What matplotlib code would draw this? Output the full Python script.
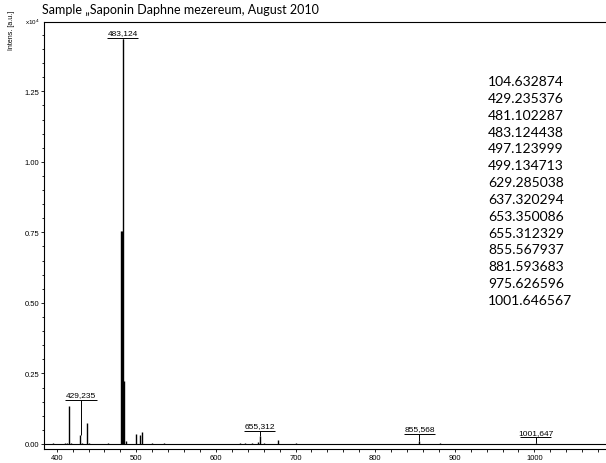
import matplotlib
matplotlib.use("Agg")
from matplotlib import pyplot as plt
from matplotlib.ticker import MultipleLocator, FuncFormatter

# peaks (m/z, intensity in a.u.)
peak_mz = [395.0, 410.0, 413.0, 415.8, 418.0, 429.2, 431.5, 437.5, 440.0, 465.0,
           481.1, 482.1, 483.1, 484.3, 486.5, 499.2, 505.0, 507.5, 520.0, 535.0,
           630.0, 637.0, 645.0, 653.0, 655.3, 660.0, 677.7, 700.0, 855.6, 881.6,
           975.6, 1001.6]
peak_int = [45, 30, 40, 1360, 40, 305, 50, 745, 50, 30,
            7540, 7540, 14340, 2220, 100, 355, 310, 425, 25, 50,
            40, 50, 30, 60, 280, 40, 140, 20, 95, 35,
            15, 25]

# annotated peaks: label, label position, peak top
label_text = ["483,124", "429,235", "655,312", "855,568", "1001,647"]
label_mz = [483.1, 430.5, 655.3, 855.6, 1001.6]
label_y = [14400, 1560, 460, 355, 230]
label_peak = [14340, 305, 280, 95, 25]

# mass list printed on the slide
mass_list = ["104.632874", "429.235376", "481.102287", "483.124438", "497.123999",
             "499.134713", "629.285038", "637.320294", "653.350086", "655.312329",
             "855.567937", "881.593683", "975.626596", "1001.646567"]

baseline_mz = [384, 1090]
baseline_int = [0, 0]

fig = plt.figure(figsize=(6.06, 4.64), dpi=100)
ax = fig.add_axes([44 / 606, 14 / 464, 562 / 606, 427 / 464])

ax.plot(baseline_mz, baseline_int, color="black", lw=0.8)
ax.vlines(peak_mz, 0, peak_int, color="black", lw=1.0)

for txt, x, y, top in zip(label_text, label_mz, label_y, label_peak):
    ax.hlines(y, x - 19.5, x + 19.5, color="black", lw=0.7)
    ax.vlines(x, top, y, color="black", lw=0.7)
    ax.text(x, y + 60, txt, ha="center", va="bottom", fontsize=6,
            family="Liberation Sans")

ax.set_xlim(384, 1090)
ax.set_ylim(-180, 14960)
ax.xaxis.set_major_locator(MultipleLocator(100))
ax.xaxis.set_minor_locator(MultipleLocator(20))
ax.yaxis.set_major_locator(MultipleLocator(2500))
ax.yaxis.set_minor_locator(MultipleLocator(500))
ax.yaxis.set_major_formatter(FuncFormatter(lambda v, p: f"{v / 1e4:.2f}"))
ax.tick_params(which="both", direction="out", labelsize=5.5, width=0.6, pad=1)
ax.tick_params(which="major", length=2.5)
ax.tick_params(which="minor", length=1.8)
for lab in ax.get_xticklabels() + ax.get_yticklabels():
    lab.set_family("Liberation Sans")
ax.spines["right"].set_visible(False)
for s in ["left", "top", "bottom"]:
    ax.spines[s].set_linewidth(0.8)

fig.text(12 / 606, 1 - 30 / 464, "Intens. [a.u.]", rotation=90, fontsize=5,
         ha="center", va="center", family="Liberation Sans")
fig.text(25 / 606, 1 - 22 / 464, r"x10$^4$", fontsize=4.5, ha="left", va="center",
         family="Liberation Sans")

fig.text(42 / 606, 1 - 10 / 464, "Sample \u201eSaponin Daphne mezereum, August 2010",
         fontsize=9, family="Lato", ha="left", va="center")

for i, m in enumerate(mass_list):
    fig.text(488 / 606, 1 - (82 + i * 16.85) / 464, m, fontsize=10,
             family="Lato", ha="left", va="center")

fig.savefig("out.png", dpi=100)
